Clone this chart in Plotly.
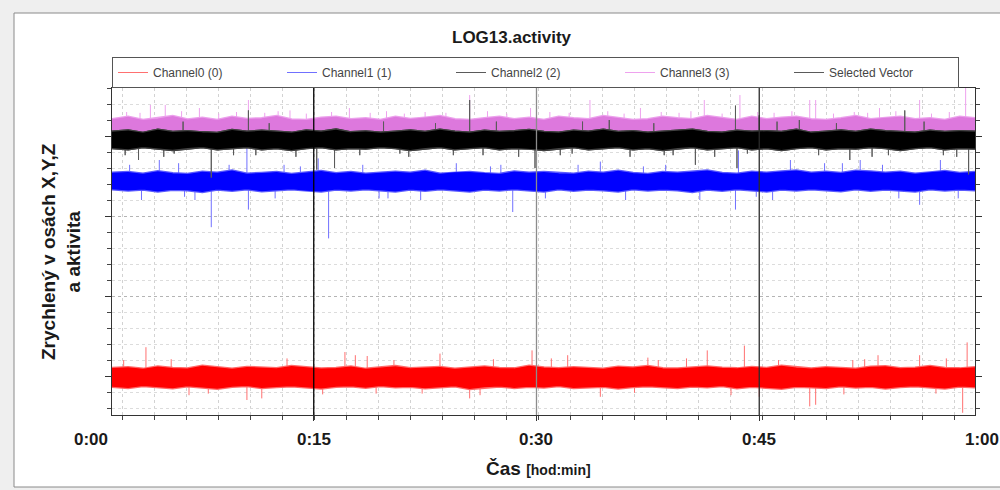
import plotly.graph_objects as go

# ---------------- data (time in minutes, acceleration in relative units) ----------------
T = [1.42, 2.5, 3.5, 4.5, 5.5, 6.5, 7.5, 8.5, 9.5, 10.5,
     11.5, 12.5, 13.5, 14.5, 15.5, 16.5, 17.5, 18.5, 19.5, 20.5,
     21.5, 22.5, 23.5, 24.5, 25.5, 26.5, 27.5, 28.5, 29.5, 30.5,
     31.5, 32.5, 33.5, 34.5, 35.5, 36.5, 37.5, 38.5, 39.5, 40.5,
     41.5, 42.5, 43.5, 44.5, 45.5, 46.5, 47.5, 48.5, 49.5, 50.5,
     51.5, 52.5, 53.5, 54.5, 55.5, 56.5, 57.5, 58.5, 59.52]

CH0_HI = [0.45, 0.50, 0.40, 0.55, 0.45, 0.42, 0.60, 0.48, 0.40, 0.52,
          0.47, 0.44, 0.58, 0.50, 0.42, 0.46, 0.55, 0.40, 0.50, 0.57,
          0.44, 0.48, 0.52, 0.41, 0.47, 0.55, 0.45, 0.43, 0.60, 0.48,
          0.44, 0.50, 0.46, 0.40, 0.53, 0.49, 0.58, 0.44, 0.42, 0.50,
          0.55, 0.47, 0.43, 0.52, 0.45, 0.59, 0.48, 0.42, 0.50, 0.46,
          0.41, 0.53, 0.56, 0.44, 0.47, 0.57, 0.45, 0.43, 0.50]
CH0_LO = [-0.62, -0.70, -0.58, -0.66, -0.72, -0.60, -0.68, -0.75, -0.62, -0.58,
          -0.70, -0.64, -0.60, -0.67, -0.74, -0.63, -0.60, -0.69, -0.58, -0.66,
          -0.62, -0.72, -0.65, -0.60, -0.76, -0.66, -0.61, -0.70, -0.63, -0.67,
          -0.58, -0.71, -0.65, -0.62, -0.74, -0.64, -0.60, -0.66, -0.70, -0.61,
          -0.65, -0.58, -0.72, -0.63, -0.68, -0.75, -0.62, -0.66, -0.71, -0.60,
          -0.67, -0.62, -0.73, -0.64, -0.60, -0.66, -0.74, -0.61, -0.65]
CH0_MID = -0.08
CH0_SPIKE_T = [3.7, 10.5, 11.5, 17.1, 17.8, 18.6, 23.5, 25.5, 29.7, 32.1,
               34.3, 41.5, 44.0, 45.0, 48.4, 48.8, 53.0, 55.8, 58.7, 59.0,
               2.2, 5.4, 7.9, 13.2, 15.6, 20.4, 22.3, 27.1, 31.0, 36.6,
               38.2, 40.1, 46.3, 50.7, 52.1, 56.9, 6.6, 19.2, 26.2, 37.5,
               43.1, 51.3, 57.6]
CH0_SPIKE_V = [1.8, -1.5, -1.4, 1.5, 1.3, 1.25, 1.4, -1.4, 1.6, 1.3,
               -1.3, 1.6, 1.9, -1.3, -1.9, -1.8, 1.3, 1.3, -2.3, 2.1,
               1.0, 1.05, -1.1, 1.1, -1.15, 1.0, -1.1, 1.05, 1.1, -1.05,
               1.0, 1.1, 1.0, -1.15, 1.05, -1.1, -1.2, -1.1, -1.2, 1.15,
               -1.2, 1.0, 1.1]

CH1_HI = [12.65, 12.70, 12.60, 12.75, 12.62, 12.58, 12.72, 12.66, 12.80, 12.60,
          12.64, 12.70, 12.58, 12.68, 12.76, 12.62, 12.70, 12.60, 12.64, 12.72,
          12.66, 12.78, 12.60, 12.68, 12.70, 12.62, 12.58, 12.74, 12.65, 12.70,
          12.62, 12.60, 12.72, 12.66, 12.78, 12.64, 12.58, 12.70, 12.66, 12.72,
          12.80, 12.64, 12.60, 12.72, 12.66, 12.74, 12.80, 12.66, 12.72, 12.64,
          12.78, 12.74, 12.66, 12.72, 12.60, 12.68, 12.76, 12.64, 12.70]
CH1_LO = [11.72, 11.64, 11.70, 11.58, 11.68, 11.66, 11.55, 11.70, 11.62, 11.72,
          11.60, 11.66, 11.72, 11.62, 11.58, 11.70, 11.64, 11.72, 11.66, 11.58,
          11.70, 11.62, 11.72, 11.66, 11.58, 11.70, 11.64, 11.72, 11.66, 11.58,
          11.72, 11.62, 11.70, 11.66, 11.58, 11.72, 11.64, 11.70, 11.66, 11.55,
          11.70, 11.62, 11.72, 11.66, 11.58, 11.70, 11.64, 11.72, 11.66, 11.60,
          11.72, 11.62, 11.70, 11.66, 11.58, 11.72, 11.64, 11.70, 11.66]
CH1_MID = 12.2
CH1_SPIKE_T = [3.4, 4.6, 8.1, 10.6, 10.5, 15.3, 16.0, 22.2, 28.4, 34.3,
               41.0, 43.4, 43.6, 47.1, 51.8, 55.8, 57.2,
               2.6, 5.9, 7.0, 9.3, 12.4, 14.1, 18.3, 20.0, 24.6, 26.9,
               30.6, 32.8, 36.0, 38.7, 45.9, 49.4, 53.3, 58.4, 6.3, 13.0,
               19.4, 27.6, 37.2, 44.8, 50.6, 54.4]
CH1_SPIKE_V = [11.0, 13.5, 9.3, 10.4, 14.6, 13.6, 8.6, 11.0, 10.25, 13.4,
               11.0, 10.4, 14.1, 13.5, 13.5, 10.7, 13.5,
               13.2, 13.3, 11.0, 13.2, 11.1, 13.1, 13.2, 11.1, 13.3, 13.1,
               11.1, 13.2, 11.0, 13.2, 11.0, 13.3, 13.2, 11.1, 11.2, 13.2,
               11.1, 13.2, 13.1, 11.2, 13.3, 11.1]

CH2_HI = [15.22, 15.30, 15.15, 15.34, 15.20, 15.25, 15.18, 15.14, 15.32, 15.22,
          15.28, 15.20, 15.15, 15.30, 15.22, 15.35, 15.18, 15.24, 15.15, 15.22,
          15.30, 15.20, 15.34, 15.22, 15.16, 15.28, 15.20, 15.25, 15.33, 15.20,
          15.15, 15.28, 15.22, 15.35, 15.20, 15.25, 15.15, 15.22, 15.30, 15.34,
          15.20, 15.15, 15.28, 15.22, 15.25, 15.20, 15.34, 15.15, 15.22, 15.30,
          15.20, 15.34, 15.25, 15.22, 15.15, 15.28, 15.20, 15.25, 15.22]
CH2_LO = [14.30, 14.22, 14.36, 14.26, 14.18, 14.30, 14.36, 14.22, 14.30, 14.36,
          14.22, 14.30, 14.18, 14.30, 14.36, 14.22, 14.30, 14.26, 14.36, 14.30,
          14.18, 14.30, 14.36, 14.22, 14.30, 14.36, 14.22, 14.30, 14.26, 14.18,
          14.30, 14.36, 14.22, 14.30, 14.36, 14.22, 14.30, 14.18, 14.30, 14.36,
          14.22, 14.30, 14.36, 14.22, 14.30, 14.18, 14.30, 14.36, 14.22, 14.30,
          14.26, 14.36, 14.30, 14.18, 14.30, 14.36, 14.22, 14.30, 14.26]
CH2_MID = 14.75
CH2_SPIKE_T = [3.2, 8.1, 10.6, 15.2, 16.4, 25.5, 29.9, 34.9, 40.7, 43.4,
               43.5, 45.0, 47.7, 51.1, 54.8, 59.1,
               2.3, 4.9, 6.2, 9.6, 12.0, 13.8, 18.1, 19.7, 21.4, 23.2,
               24.4, 27.3, 28.8, 31.6, 33.1, 36.3, 37.9, 39.2, 42.0, 46.2,
               49.0, 50.2, 52.6, 56.1, 57.4, 58.3, 5.6, 11.1, 20.8, 26.4,
               32.4, 38.6, 44.2, 53.7]
CH2_SPIKE_V = [13.5, 12.4, 16.6, 12.9, 13.0, 17.25, 13.0, 16.0, 13.2, 16.9,
               13.0, 16.3, 16.0, 13.5, 16.6, 12.6,
               13.8, 13.7, 15.9, 13.8, 15.8, 13.7, 13.8, 15.9, 13.7, 15.8,
               13.8, 15.9, 13.7, 13.8, 15.9, 13.7, 15.8, 13.8, 13.7, 15.9,
               13.8, 15.8, 13.7, 15.9, 13.8, 13.7, 13.9, 13.8, 13.9, 13.8,
               13.9, 13.8, 13.9, 13.8]

CH3_HI = [16.00, 16.15, 15.95, 16.05, 16.20, 15.98, 16.10, 15.95, 16.15, 16.02,
          16.06, 16.20, 15.98, 15.95, 16.10, 16.15, 16.00, 16.06, 15.95, 16.15,
          16.02, 16.10, 16.20, 16.00, 15.95, 16.06, 16.15, 16.00, 16.10, 15.95,
          16.15, 16.06, 16.00, 16.20, 16.06, 15.95, 16.00, 16.15, 16.06, 16.00,
          16.20, 16.06, 15.95, 16.15, 16.00, 16.10, 16.15, 16.00, 15.95, 16.06,
          16.20, 16.00, 16.10, 16.15, 16.00, 16.06, 15.95, 16.15, 16.06]
CH3_LO = [15.0, 14.9, 15.1, 15.0, 14.9, 15.0, 15.1, 14.9, 15.0, 15.1,
          15.0, 14.9, 15.0, 15.1, 14.9, 15.0, 15.1, 15.0, 14.9, 15.0,
          15.1, 14.9, 15.0, 15.0, 15.1, 14.9, 15.0, 15.1, 15.0, 14.9,
          15.0, 15.1, 14.9, 15.0, 15.0, 15.1, 14.9, 15.0, 15.1, 15.0,
          14.9, 15.0, 15.1, 15.0, 14.9, 15.0, 15.1, 14.9, 15.0, 15.1,
          15.0, 14.9, 15.0, 15.1, 15.0, 14.9, 15.0, 15.1, 15.0]
CH3_MID = 15.6
CH3_SPIKE_T = [4.0, 5.0, 7.3, 10.6, 13.4, 17.4, 25.5, 29.6, 33.6, 37.0,
               41.3, 43.7, 48.4, 48.8, 53.1, 55.8, 58.9,
               2.4, 3.3, 6.1, 8.6, 9.8, 11.7, 12.6, 14.5, 16.2, 18.8,
               19.9, 21.1, 22.5, 23.9, 26.7, 28.0, 30.9, 32.2, 34.8, 35.9,
               38.4, 39.6, 40.4, 42.5, 44.9, 46.0, 47.2, 50.0, 51.4, 52.3,
               54.2, 56.6, 57.8]
CH3_SPIKE_V = [16.94, 16.94, 16.75, 17.25, 16.6, 16.75, 17.56, 16.75, 17.25, 16.75,
               17.25, 17.56, 17.25, 17.25, 16.75, 17.25, 18.0,
               16.5, 16.45, 16.55, 16.4, 16.5, 16.45, 16.55, 16.4, 16.5, 16.45,
               16.55, 16.4, 16.5, 16.45, 16.55, 16.4, 16.5, 16.45, 16.55, 16.4,
               16.5, 16.45, 16.55, 16.4, 16.5, 16.45, 16.55, 16.4, 16.5, 16.45,
               16.55, 16.4, 16.5]

X_TICK_VALS = [0, 15, 30, 45, 60]
X_TICK_TEXT = ["0:00", "0:15", "0:30", "0:45", "1:00"]
MARK_T = [15, 30, 45]

X_RANGE = [1.414, 59.53]
Y_RANGE = [-2.4375, 18.0]

FONT = "Liberation Sans, Arial, sans-serif"

fig = go.Figure()


def band(t, hi, lo, color, edge, name):
    # soft, slightly wider edge under the solid core
    xs = list(t) + list(t)[::-1] + [t[0]]
    ys = list(hi) + list(lo)[::-1] + [hi[0]]
    fig.add_trace(go.Scatter(x=xs, y=ys, mode="lines", line=dict(color=edge, width=4),
                             showlegend=False, hoverinfo="skip", name=name))
    fig.add_trace(go.Scatter(x=xs, y=ys, mode="lines", fill="toself", fillcolor=color,
                             line=dict(color=color, width=1.5), showlegend=False,
                             hoverinfo="skip", name=name))


def spikes(ts, vs, mid, color, name, rank):
    xs, ys = [], []
    for t, v in zip(ts, vs):
        xs += [t, t, None]
        ys += [mid, v, None]
    fig.add_trace(go.Scatter(
        x=xs, y=ys, mode="lines", line=dict(color=color, width=1),
        name=name, legendrank=rank, hoverinfo="skip"))


assert all(len(a) == len(T) for a in [CH0_HI, CH0_LO, CH1_HI, CH1_LO, CH2_HI, CH2_LO, CH3_HI, CH3_LO])
assert len(CH0_SPIKE_T) == len(CH0_SPIKE_V) and len(CH1_SPIKE_T) == len(CH1_SPIKE_V)
assert len(CH2_SPIKE_T) == len(CH2_SPIKE_V) and len(CH3_SPIKE_T) == len(CH3_SPIKE_V)

# red channel 0
spikes(CH0_SPIKE_T, CH0_SPIKE_V, CH0_MID, "#ff7070", "Channel0 (0)", 1)
band(T, CH0_HI, CH0_LO, "#ff0000", "#ff6a6a", "Channel0 (0)")
# blue channel 1
spikes(CH1_SPIKE_T, CH1_SPIKE_V, CH1_MID, "#7070ff", "Channel1 (1)", 2)
band(T, CH1_HI, CH1_LO, "#0000ff", "#5a5aff", "Channel1 (1)")
# pink channel 3
spikes(CH3_SPIKE_T, CH3_SPIKE_V, CH3_MID, "#eea2ee", "Channel3 (3)", 4)
band(T, CH3_HI, CH3_LO, "#dd78dd", "#eca0ec", "Channel3 (3)")
# black channel 2 and selected vector (same signal)
spikes(CH2_SPIKE_T, CH2_SPIKE_V, CH2_MID, "#5a5a5a", "Channel2 (2)", 3)
band(T, CH2_HI, CH2_LO, "#000000", "#404040", "Channel2 (2)")
spikes(CH2_SPIKE_T, CH2_SPIKE_V, CH2_MID, "#5a5a5a", "Selected Vector", 5)
band(T, CH2_HI, CH2_LO, "#000000", "#404040", "Selected Vector")

# layout geometry (pixels)
W, H = 1000, 490
L, R, TOP, B = 112, 25, 88, 75
pw = W - L - R
ph = H - TOP - B


def px_x(px):
    return (px - L) / pw


def px_y(py):
    return (H - B - py) / ph


def t_to_paper(t):
    return (t - X_RANGE[0]) / (X_RANGE[1] - X_RANGE[0])


shapes = [
    dict(type="rect", xref="paper", yref="paper",
         x0=px_x(14), x1=px_x(1003), y0=px_y(487), y1=px_y(13),
         fillcolor="white", line=dict(color="#8a8a8a", width=1), layer="below"),
]
for t, c in zip(MARK_T, ["#000000", "#8c8c8c", "#2a2a2a"]):
    shapes.append(dict(type="line", xref="x", yref="paper", x0=t, x1=t, y0=0, y1=1,
                       line=dict(color=c, width=1.3), layer="above"))

annotations = []
for v, txt in zip(X_TICK_VALS, X_TICK_TEXT):
    annotations.append(dict(text="<b>%s</b>" % txt, xref="paper", yref="paper",
                            x=t_to_paper(v), y=px_y(440), showarrow=False,
                            xanchor="center", yanchor="middle",
                            font=dict(family=FONT, size=17, color="#1a1a1a")))
annotations.append(dict(text="<b>Čas</b> <span style='font-size:14px'><b>[hod:min]</b></span>",
                        xref="paper", yref="paper", x=px_x(538), y=px_y(469),
                        showarrow=False, xanchor="center", yanchor="middle",
                        font=dict(family=FONT, size=19, color="#1a1a1a")))
annotations.append(dict(text="<b>Zrychlený v osách X,Y,Z<br>a aktivita</b>",
                        xref="paper", yref="paper", x=px_x(61), y=px_y(252),
                        showarrow=False, textangle=-90, xanchor="center", yanchor="middle",
                        font=dict(family=FONT, size=19, color="#1a1a1a")))
annotations.append(dict(text="<b>LOG13.activity</b>", xref="paper", yref="paper",
                        x=px_x(512), y=px_y(38), showarrow=False,
                        xanchor="center", yanchor="middle",
                        font=dict(family=FONT, size=17, color="#1a1a1a")))

fig.update_layout(
    width=W, height=H,
    margin=dict(l=L, r=R, t=TOP, b=B, pad=0),
    paper_bgcolor="#efefef",
    plot_bgcolor="rgba(0,0,0,0)",
    font=dict(family=FONT, color="#333333"),
    shapes=shapes,
    annotations=annotations,
    showlegend=True,
    legend=dict(orientation="h", x=0, y=px_y(57), xanchor="left", yanchor="top",
                bgcolor="white", bordercolor="#555555", borderwidth=1,
                entrywidth=124, entrywidthmode="pixels", itemwidth=30,
                font=dict(family=FONT, size=12, color="#444444"),
                tracegroupgap=0),
    xaxis=dict(range=X_RANGE, showticklabels=False, showgrid=False, zeroline=False,
               tickmode="array", tickvals=MARK_T, ticks="outside", ticklen=5,
               tickcolor="#333333",
               showline=True, linecolor="#333333", linewidth=1.3, mirror="allticks",
               minor=dict(tickmode="linear", tick0=2.088, dtick=2.155, ticks="outside",
                          ticklen=4, tickcolor="#444444", showgrid=True,
                          gridcolor="#d2d2d2", griddash="dot", gridwidth=1)),
    yaxis=dict(range=Y_RANGE, showticklabels=False, zeroline=False,
               tickmode="linear", tick0=0, dtick=5, ticks="outside", ticklen=6,
               tickcolor="#333333", showgrid=True, gridcolor="#b4b4b4", griddash="dot",
               showline=True, linecolor="#333333", linewidth=1.3, mirror="allticks",
               minor=dict(tickmode="linear", tick0=0, dtick=1, ticks="outside",
                          ticklen=4, tickcolor="#444444", showgrid=True,
                          gridcolor="#dcdcdc", griddash="dot", gridwidth=1)),
)

fig.write_html("out.html")
